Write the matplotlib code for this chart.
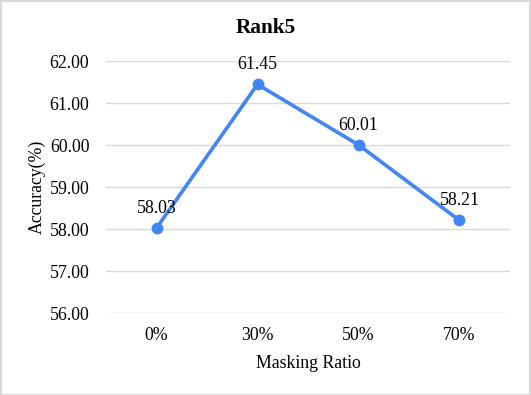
import matplotlib
matplotlib.use("Agg")
import matplotlib.pyplot as plt
from matplotlib.patches import Rectangle

categories = ["0%", "30%", "50%", "70%"]
accuracy = [58.03, 61.45, 60.01, 58.21]
yticks = [56, 57, 58, 59, 60, 61, 62]

plt.rcParams['font.family'] = ['Liberation Serif', 'DejaVu Serif']

W, H = 531, 395
fs = 12.8
fig = plt.figure(figsize=(W / 100, H / 100), dpi=100)
ax = fig.add_axes([106 / W, 1 - 313.3 / H, (510 - 106) / W, (313.3 - 61.3) / H])

x = list(range(len(categories)))
color = '#4285F4'
ax.plot(x, accuracy, color=color, linewidth=2.6, marker='o', markersize=7.5, zorder=3)
for xi, v in zip(x, accuracy):
    ax.annotate(f"{v:.2f}", (xi, v), xytext=(0, 8), textcoords='offset points',
                ha='center', va='bottom', fontsize=fs, color='black')

ax.set_xlim(-0.5, len(categories) - 0.5)
ax.set_ylim(56, 62)
ax.set_yticks(yticks)
ax.set_yticklabels([f"{t:.2f}" for t in yticks], fontsize=fs)
ax.set_xticks(x)
ax.set_xticklabels(categories, fontsize=fs)
ax.tick_params(axis='y', length=0, pad=12)
ax.tick_params(axis='x', length=0, pad=10)
ax.grid(axis='y', color='#d9d9d9', linewidth=1)
ax.set_axisbelow(True)
for s in ax.spines.values():
    s.set_visible(False)

ax.set_xlabel("Masking Ratio", fontsize=fs, labelpad=8)
ax.set_ylabel("Accuracy(%)", fontsize=fs, labelpad=3)
fig.text(0.5, 1 - 28 / H, "Rank5", ha='center', va='center', fontsize=15.3, fontweight='bold')

fig.patches.append(Rectangle((0.5 / W, 0.5 / H), 1 - 1.5 / W, 1 - 1.5 / H, transform=fig.transFigure,
                             fill=False, edgecolor='#d9d9d9', linewidth=1.5))
fig.savefig("out.png", dpi=100)
